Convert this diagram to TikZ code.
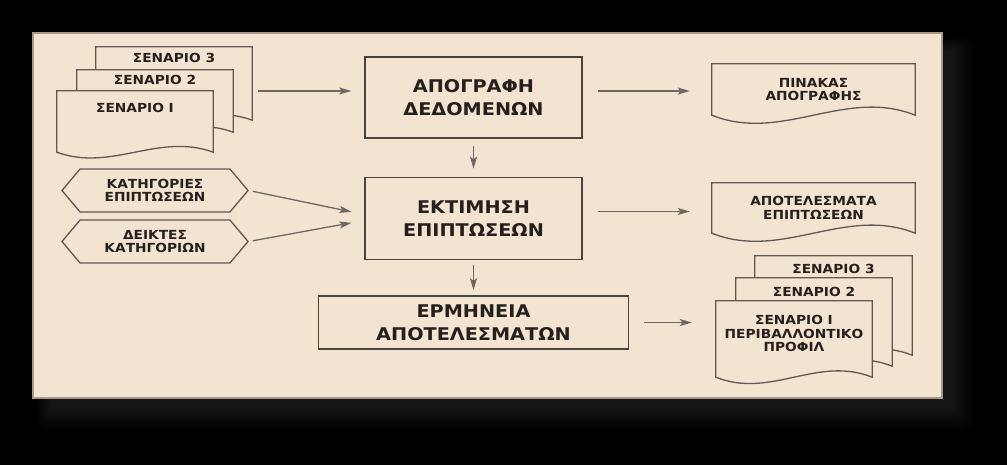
\documentclass[tikz,border=0pt]{standalone}
\usepackage{fontspec}
\setmainfont[FakeStretch=1.1]{DejaVu Sans}
\usepackage{tikz}
\usetikzlibrary{shapes.symbols,arrows.meta,positioning,backgrounds}
\definecolor{paper}{RGB}{243,227,209}
\definecolor{paperEdge}{RGB}{168,152,134}
\definecolor{boxLine}{RGB}{74,67,62}
\definecolor{docGray}{RGB}{96,88,82}
\definecolor{arrowGray}{RGB}{110,104,99}
\definecolor{inkBrown}{RGB}{38,32,28}

\tikzset{
  proc/.style={draw=boxLine, fill=paper, line width=1.5pt, inner sep=0pt, align=center,
               text=inkBrown, font=\bfseries\fontsize{17.5}{23}\selectfont},
  doc/.style={inner sep=0pt, align=center, text=inkBrown,
              font=\bfseries\fontsize{12.5}{13.5}\selectfont},
  docline/.style={draw=docGray, fill=paper, line width=1.3pt},
  cue/.style={signal, signal to=east and west, signal pointer angle=100,
              draw=docGray, fill=paper, line width=1.3pt, minimum width=186pt,
              minimum height=43pt, inner sep=0pt, align=center, text=inkBrown,
              font=\bfseries\fontsize{12.5}{13.5}\selectfont},
  flow/.style={draw=arrowGray, line width=1.3pt, -{Stealth[length=12pt,width=7pt,inset=2.5pt]}}
}

% outline of a document sheet: node, extra depth below it, wave reach, wave height
\newcommand{\docedge}[4]{%
  \begin{scope}[on background layer]
    \filldraw[docline] (#1.north west) -- (#1.north east) -- ([yshift=-#2pt]#1.south east)
      .. controls +(-#3,-#4) and +(#3,#4) .. ([yshift=-#2pt]#1.south west) -- cycle;
  \end{scope}}

\begin{document}
\begin{tikzpicture}[x=1pt,y=-1pt]
  \begin{scope}[on background layer]
    \fill[black] (0,0) rectangle (1007,465);
    \foreach \g in {1,...,10}
      \fill[white, opacity=0.012, rounded corners=\g pt]
        (52-1.5*\g,52-1.5*\g) rectangle (950+2.4*\g,406+2.4*\g);
    \filldraw[fill=paper, draw=paperEdge, line width=2pt] (33,33) rectangle (942,398);
  \end{scope}

  % main steps
  \node[proc, minimum width=217pt, minimum height=81pt] (inv) at (473.5,97.5) {ΑΠΟΓΡΑΦΗ\\ΔΕΔΟΜΕΝΩΝ};
  \node[proc, minimum width=217pt, minimum height=82pt, below=38pt of inv] (est) {ΕΚΤΙΜΗΣΗ\\ΕΠΙΠΤΩΣΕΩΝ};
  \node[proc, minimum width=310pt, minimum height=53pt, below=35pt of est] (interp) {ΕΡΜΗΝΕΙΑ\\ΑΠΟΤΕΛΕΣΜΑΤΩΝ};

  % scenarios in
  \node[doc, minimum width=156pt, minimum height=22pt] (scA3) at (174,58) {ΣΕΝΑΡΙΟ 3};
  \docedge{scA3}{51}{55}{20}
  \node[doc, minimum width=156pt, minimum height=20pt] (scA2) at (155,80) {ΣΕΝΑΡΙΟ 2};
  \docedge{scA2}{42}{55}{20}
  \node[doc, minimum width=156pt, minimum height=34pt] (scA1) at (135,108) {ΣΕΝΑΡΙΟ I};
  \docedge{scA1}{27}{55}{20}

  % inputs for the impact step
  \node[cue] (cat) at (155,190.5) {ΚΑΤΗΓΟΡΙΕΣ\\ΕΠΙΠΤΩΣΕΩΝ};
  \node[cue] (ind) at (155,241.5) {ΔΕΙΚΤΕΣ\\ΚΑΤΗΓΟΡΙΩΝ};

  % outputs
  \node[doc, minimum width=203pt, minimum height=51pt] (tab) at (813.5,89.5) {ΠΙΝΑΚΑΣ\\ΑΠΟΓΡΑΦΗΣ};
  \docedge{tab}{0}{70}{28}
  \node[doc, minimum width=203pt, minimum height=50pt] (res) at (813.5,208) {ΑΠΟΤΕΛΕΣΜΑΤΑ\\ΕΠΙΠΤΩΣΕΩΝ};
  \docedge{res}{0}{70}{28}

  \node[doc, minimum width=157pt, minimum height=26pt] (scB3) at (833.5,269) {ΣΕΝΑΡΙΟ 3};
  \docedge{scB3}{73}{55}{22}
  \node[doc, minimum width=156pt, minimum height=28pt] (scB2) at (814,292) {ΣΕΝΑΡΙΟ 2};
  \docedge{scB2}{60}{55}{22}
  \node[doc, minimum width=156pt, minimum height=65pt] (scB1) at (794,333.5) {ΣΕΝΑΡΙΟ I\\ΠΕΡΙΒΑΛΛΟΝΤΙΚΟ\\ΠΡΟΦΙΛ};
  \docedge{scB1}{11}{55}{22}

  % connectors
  \coordinate (inA) at ([yshift=6.5pt]inv.west);
  \draw[flow, shorten <=6pt, shorten >=13pt] (scA3.east |- inA) -- (inA);
  \coordinate (outA) at ([yshift=6.5pt]inv.east);
  \draw[flow, shorten <=15pt, shorten >=22pt] (outA) -- (outA -| tab.west);
  \draw[flow, shorten <=7pt, shorten >=8pt] (inv) -- (est);
  \coordinate (outB) at ([yshift=7pt]est.east);
  \draw[flow, shorten <=15pt, shorten >=22pt] (outB) -- (outB -| res.west);
  \draw[flow, shorten <=5pt, shorten >=5pt] (est) -- (interp);
  \draw[flow, shorten <=15pt, shorten >=24pt] (interp.east) -- (interp.east -| scB1.west);
  \draw[flow, shorten <=4pt, shorten >=13pt] (cat.east) -- ([yshift=4pt]est.west);
  \draw[flow, shorten <=4pt, shorten >=13pt] (ind.east) -- ([yshift=-2pt]est.west);
\end{tikzpicture}
\end{document}
